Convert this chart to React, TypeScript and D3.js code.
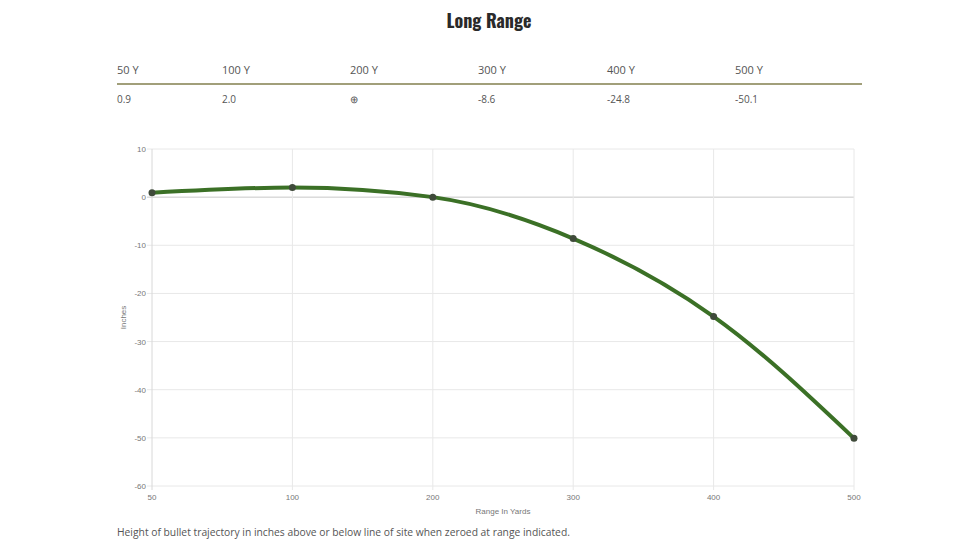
import React from "react";
import * as d3 from "d3";

const ranges = ["50", "100", "200", "300", "400", "500"];
const drops = [0.9, 2.0, 0, -8.6, -24.8, -50.1];
const tableHeaders = ["50 Y", "100 Y", "200 Y", "300 Y", "400 Y", "500 Y"];
const tableValues = ["0.9", "2.0", "⊕", "-8.6", "-24.8", "-50.1"];
const yTicks = [10, 0, -10, -20, -30, -40, -50, -60];

const W = 978;
const H = 550;
const plotL = 152;
const plotR = 854;
const plotT = 149;
const plotB = 486;

export default function App() {
  const x = d3.scalePoint<string>().domain(ranges).range([plotL, plotR]);
  const y = d3.scaleLinear().domain([-60, 10]).range([plotB, plotT]);
  const line = d3
    .line<number>()
    .x((_, i) => x(ranges[i]) as number)
    .y((d) => y(d))
    .curve(d3.curveMonotoneX);
  const colX = [117, 222, 350, 478, 607, 735];
  const tickFont = "Arial, 'Liberation Sans', sans-serif";
  return (
    <svg
      width={W}
      height={H}
      style={{ position: "absolute", left: 0, top: 0, background: "#fff" }}
    >
      <text
        x={489}
        y={28}
        textAnchor="middle"
        fontFamily="Oswald, 'Liberation Sans Narrow', 'DejaVu Sans Condensed', sans-serif"
        fontWeight="bold"
        fontSize={18}
        fill="#2a2a2a"
        style={{ fontStretch: "condensed" }}
      >
        Long Range
      </text>
      {tableHeaders.map((h, i) => (
        <text
          key={"h" + i}
          x={colX[i]}
          y={74}
          fontFamily="'Open Sans', sans-serif"
          fontSize={11}
          fill="#555"
        >
          {h}
        </text>
      ))}
      <line x1={117} x2={862} y1={84} y2={84} stroke="#a19f7a" strokeWidth={2} />
      {tableValues.map((v, i) => (
        <text
          key={"v" + i}
          x={colX[i]}
          y={103}
          fontFamily="'Open Sans', sans-serif"
          fontSize={10}
          fill="#555"
        >
          {v}
        </text>
      ))}
      {yTicks.map((t) => (
        <g key={"yt" + t}>
          <line
            x1={plotL - 5}
            x2={plotR}
            y1={y(t)}
            y2={y(t)}
            stroke={t === 0 ? "#c8c8c8" : "#e8e8e8"}
            strokeWidth={1}
          />
          <text
            x={plotL - 6}
            y={y(t) + 3}
            textAnchor="end"
            fontFamily={tickFont}
            fontSize={8}
            fill="#777"
          >
            {t}
          </text>
        </g>
      ))}
      {ranges.map((r) => (
        <g key={"xt" + r}>
          <line
            x1={x(r)}
            x2={x(r)}
            y1={plotT}
            y2={plotB + 4}
            stroke={r === ranges[0] ? "#d8d8d8" : "#e8e8e8"}
          />
          <text
            x={x(r)}
            y={plotB + 14}
            textAnchor="middle"
            fontFamily={tickFont}
            fontSize={8}
            fill="#777"
          >
            {r}
          </text>
        </g>
      ))}
      <text
        x={(plotL + plotR) / 2}
        y={514}
        textAnchor="middle"
        fontFamily={tickFont}
        fontSize={8}
        fill="#777"
      >
        Range In Yards
      </text>
      <text
        transform={`translate(126, ${(plotT + plotB) / 2}) rotate(-90)`}
        textAnchor="middle"
        fontFamily={tickFont}
        fontSize={8}
        fill="#777"
      >
        Inches
      </text>
      <path
        d={line(drops) ?? ""}
        fill="none"
        stroke="#3b7026"
        strokeWidth={4}
        strokeLinecap="round"
      />
      {drops.map((d, i) => (
        <circle
          key={"p" + i}
          cx={x(ranges[i])}
          cy={y(d)}
          r={3.5}
          fill="#3f4a3a"
        />
      ))}
      <text
        x={117}
        y={536}
        fontFamily="'Open Sans', sans-serif"
        fontSize={10.3}
        fill="#555"
      >
        Height of bullet trajectory in inches above or below line of site when zeroed at range indicated.
      </text>
    </svg>
  );
}
